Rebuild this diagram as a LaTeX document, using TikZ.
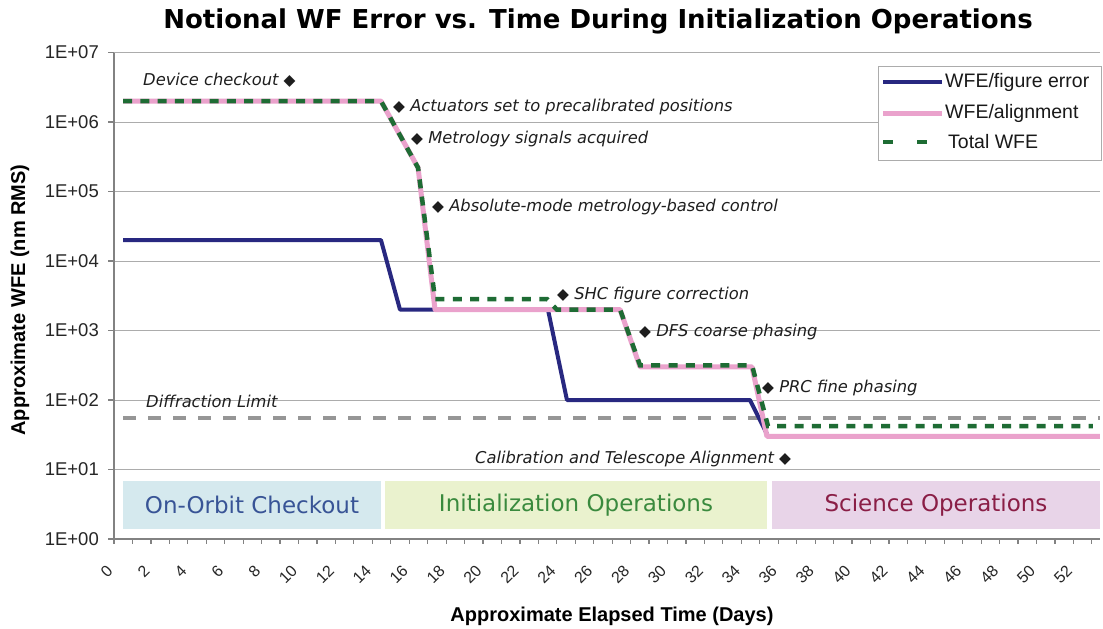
\documentclass[tikz,border=0pt]{standalone}
\usepackage{fontspec}
\setmainfont{Liberation Sans}
\newfontfamily\verd{DejaVu Sans}

\definecolor{gridgray}{RGB}{172,172,172}
\definecolor{axisgray}{RGB}{130,130,130}
\definecolor{wfeblue}{RGB}{40,40,128}
\definecolor{wfepink}{RGB}{234,162,204}
\definecolor{wfegreen}{RGB}{30,108,52}
\definecolor{diffgray}{RGB}{150,150,150}
\definecolor{anntext}{RGB}{30,30,30}
\definecolor{orbitfill}{RGB}{213,233,238}
\definecolor{orbittext}{RGB}{56,84,150}
\definecolor{initfill}{RGB}{234,242,206}
\definecolor{inittext}{RGB}{58,138,62}
\definecolor{scifill}{RGB}{232,212,232}
\definecolor{scitext}{RGB}{138,30,70}

% small upright diamond marker used inside the annotations
\newcommand\dmd{{\verd\upshape\fontsize{15.5}{16}\selectfont ◆}}

\begin{document}
\begin{tikzpicture}[x=1pt, y=-1pt,
  declare function={xd(\t)=114+18.45*\t; yv(\e)=539-69.5*\e;},
  gridline/.style={draw=gridgray, line width=1pt},
  axisline/.style={draw=axisgray, line width=1.2pt},
  ylabel/.style={font=\fontsize{18.5}{20}\selectfont, text=black!85, inner sep=0pt, anchor=east},
  xlabel/.style={font=\fontsize{16}{18}\selectfont, text=black!85, inner sep=0pt, anchor=east, rotate=45},
  axistitle/.style={font=\bfseries\fontsize{20}{22}\selectfont, inner sep=0pt},
  seriesblue/.style={draw=wfeblue, line width=4pt, line join=round},
  seriespink/.style={draw=wfepink, line width=5pt, line join=round},
  seriestotal/.style={draw=wfegreen, line width=4.5pt, dash pattern=on 9pt off 8.3pt},
  difflimit/.style={draw=diffgray, line width=4pt, dash pattern=on 13pt off 12pt},
  ann/.style={font=\verd\itshape\fontsize{16.3}{19}\selectfont, text=anntext, inner sep=0pt, anchor=base west},
  phasebox/.style={minimum height=48pt, inner sep=0pt, font=\verd\fontsize{23}{26}\selectfont},
  legtext/.style={font=\fontsize{19.5}{21}\selectfont, text=black!90, inner sep=0pt, anchor=west},
]
\useasboundingbox (0,0) rectangle (1103,629);
\fill[white] (0,0) rectangle (1103,629);

% title
\node[font=\verd\bfseries\fontsize{26}{30}\selectfont, inner sep=0pt] (title) at (598,21)
  {Notional WF Error vs. Time During Initialization Operations};

% horizontal gridlines and decade labels
\foreach \e in {1,...,7} {
  \draw[gridline] (108,{yv(\e)}) -- (1100,{yv(\e)});
}
\foreach \e/\lab in {0/00,1/01,2/02,3/03,4/04,5/05,6/06,7/07} {
  \draw[axisline] (108,{yv(\e)}) -- (114,{yv(\e)});
  \node[ylabel] (ylab\e) at (99,{yv(\e)}) {1E+\lab};
}

% axes
\draw[axisline] (114,{yv(7)}) -- (114,{yv(0)}) -- (1100,{yv(0)});
\foreach \t in {0,...,53} {
  \draw[axisline] ({xd(\t)},{yv(0)}) -- ({xd(\t)},{yv(0)+5});
}
\foreach \t in {0,2,...,52} {
  \node[xlabel] (xlab\t) at ({xd(\t)-4},568) {\t};
}

% axis titles
\node[axistitle, rotate=90] (ytitle) at (20,300) {Approximate WFE (nm RMS)};
\node[axistitle] (xtitle) at (612,616) {Approximate Elapsed Time (Days)};

% mission phases
\node[phasebox, fill=orbitfill, text=orbittext, minimum width=258pt] (orbit) at (252,505) {On-Orbit Checkout};
\node[phasebox, fill=initfill, text=inittext, minimum width=382pt] (init) at (576,505) {Initialization Operations};
\node[phasebox, fill=scifill, text=scitext, minimum width=328pt] (science) at (936,505) {Science Operations};

% diffraction limit
\draw[difflimit] (123,{yv(1.748)}) -- (1100,{yv(1.748)});

% WFE due to figure error
\draw[seriesblue] ({xd(0.49)},{yv(4.301)}) -- ({xd(14.47)},{yv(4.301)})
  -- ({xd(15.5)},{yv(3.301)}) -- ({xd(23.52)},{yv(3.301)})
  -- ({xd(24.55)},{yv(2)}) -- ({xd(34.47)},{yv(2)})
  -- ({xd(35.45)},{yv(1.477)}) -- ({xd(53.44)},{yv(1.477)});

% WFE due to alignment
\draw[seriespink] ({xd(0.49)},{yv(6.301)}) -- ({xd(14.47)},{yv(6.301)})
  -- ({xd(16.48)},{yv(5.342)}) -- ({xd(17.4)},{yv(3.301)})
  -- ({xd(27.43)},{yv(3.301)}) -- ({xd(28.51)},{yv(2.477)})
  -- ({xd(34.58)},{yv(2.477)}) -- ({xd(35.39)},{yv(1.477)})
  -- ({xd(53.44)},{yv(1.477)});

% total WFE
\draw[seriestotal] ({xd(0.49)},{yv(6.301)}) -- ({xd(14.47)},{yv(6.301)})
  -- ({xd(16.48)},{yv(5.342)}) -- ({xd(17.4)},{yv(3.452)})
  -- ({xd(23.47)},{yv(3.452)}) -- ({xd(24.0)},{yv(3.301)})
  -- ({xd(27.43)},{yv(3.301)}) -- ({xd(28.51)},{yv(2.5)})
  -- ({xd(34.58)},{yv(2.5)}) -- ({xd(35.45)},{yv(1.623)})
  -- ({xd(53.06)},{yv(1.623)});

% event annotations
\node[ann] (evcheck) at (143,85) {Device checkout \dmd};
\node[ann] (evact) at (393,111) {\dmd\ Actuators set to precalibrated positions};
\node[ann] (evmet) at (411,143) {\dmd\ Metrology signals acquired};
\node[ann] (evabs) at (432,211) {\dmd\ Absolute-mode metrology-based control};
\node[ann] (evshc) at (557,299) {\dmd\ SHC figure correction};
\node[ann] (evdfs) at (639,336) {\dmd\ DFS coarse phasing};
\node[ann] (evprc) at (762,392) {\dmd\ PRC fine phasing};
\node[ann] (evdiff) at (146,407) {Diffraction Limit};
\node[ann] (evcal) at (475,463) {Calibration and Telescope Alignment \dmd};

% legend
\node[draw=gridgray, fill=white, line width=1pt, minimum width=223pt, minimum height=94pt, inner sep=0pt] (legend) at (989.5,113) {};
\draw[seriesblue] (883,82) -- (942,82);
\node[legtext] (legblue) at (945,82) {WFE/figure error};
\draw[seriespink] (883,113) -- (942,113);
\node[legtext] (legpink) at (945,113) {WFE/alignment};
\draw[draw=wfegreen, line width=4.5pt, dash pattern=on 10pt off 24pt] (883,142) -- (927,142);
\node[legtext] (leggreen) at (948,142) {Total WFE};
\end{tikzpicture}
\end{document}
